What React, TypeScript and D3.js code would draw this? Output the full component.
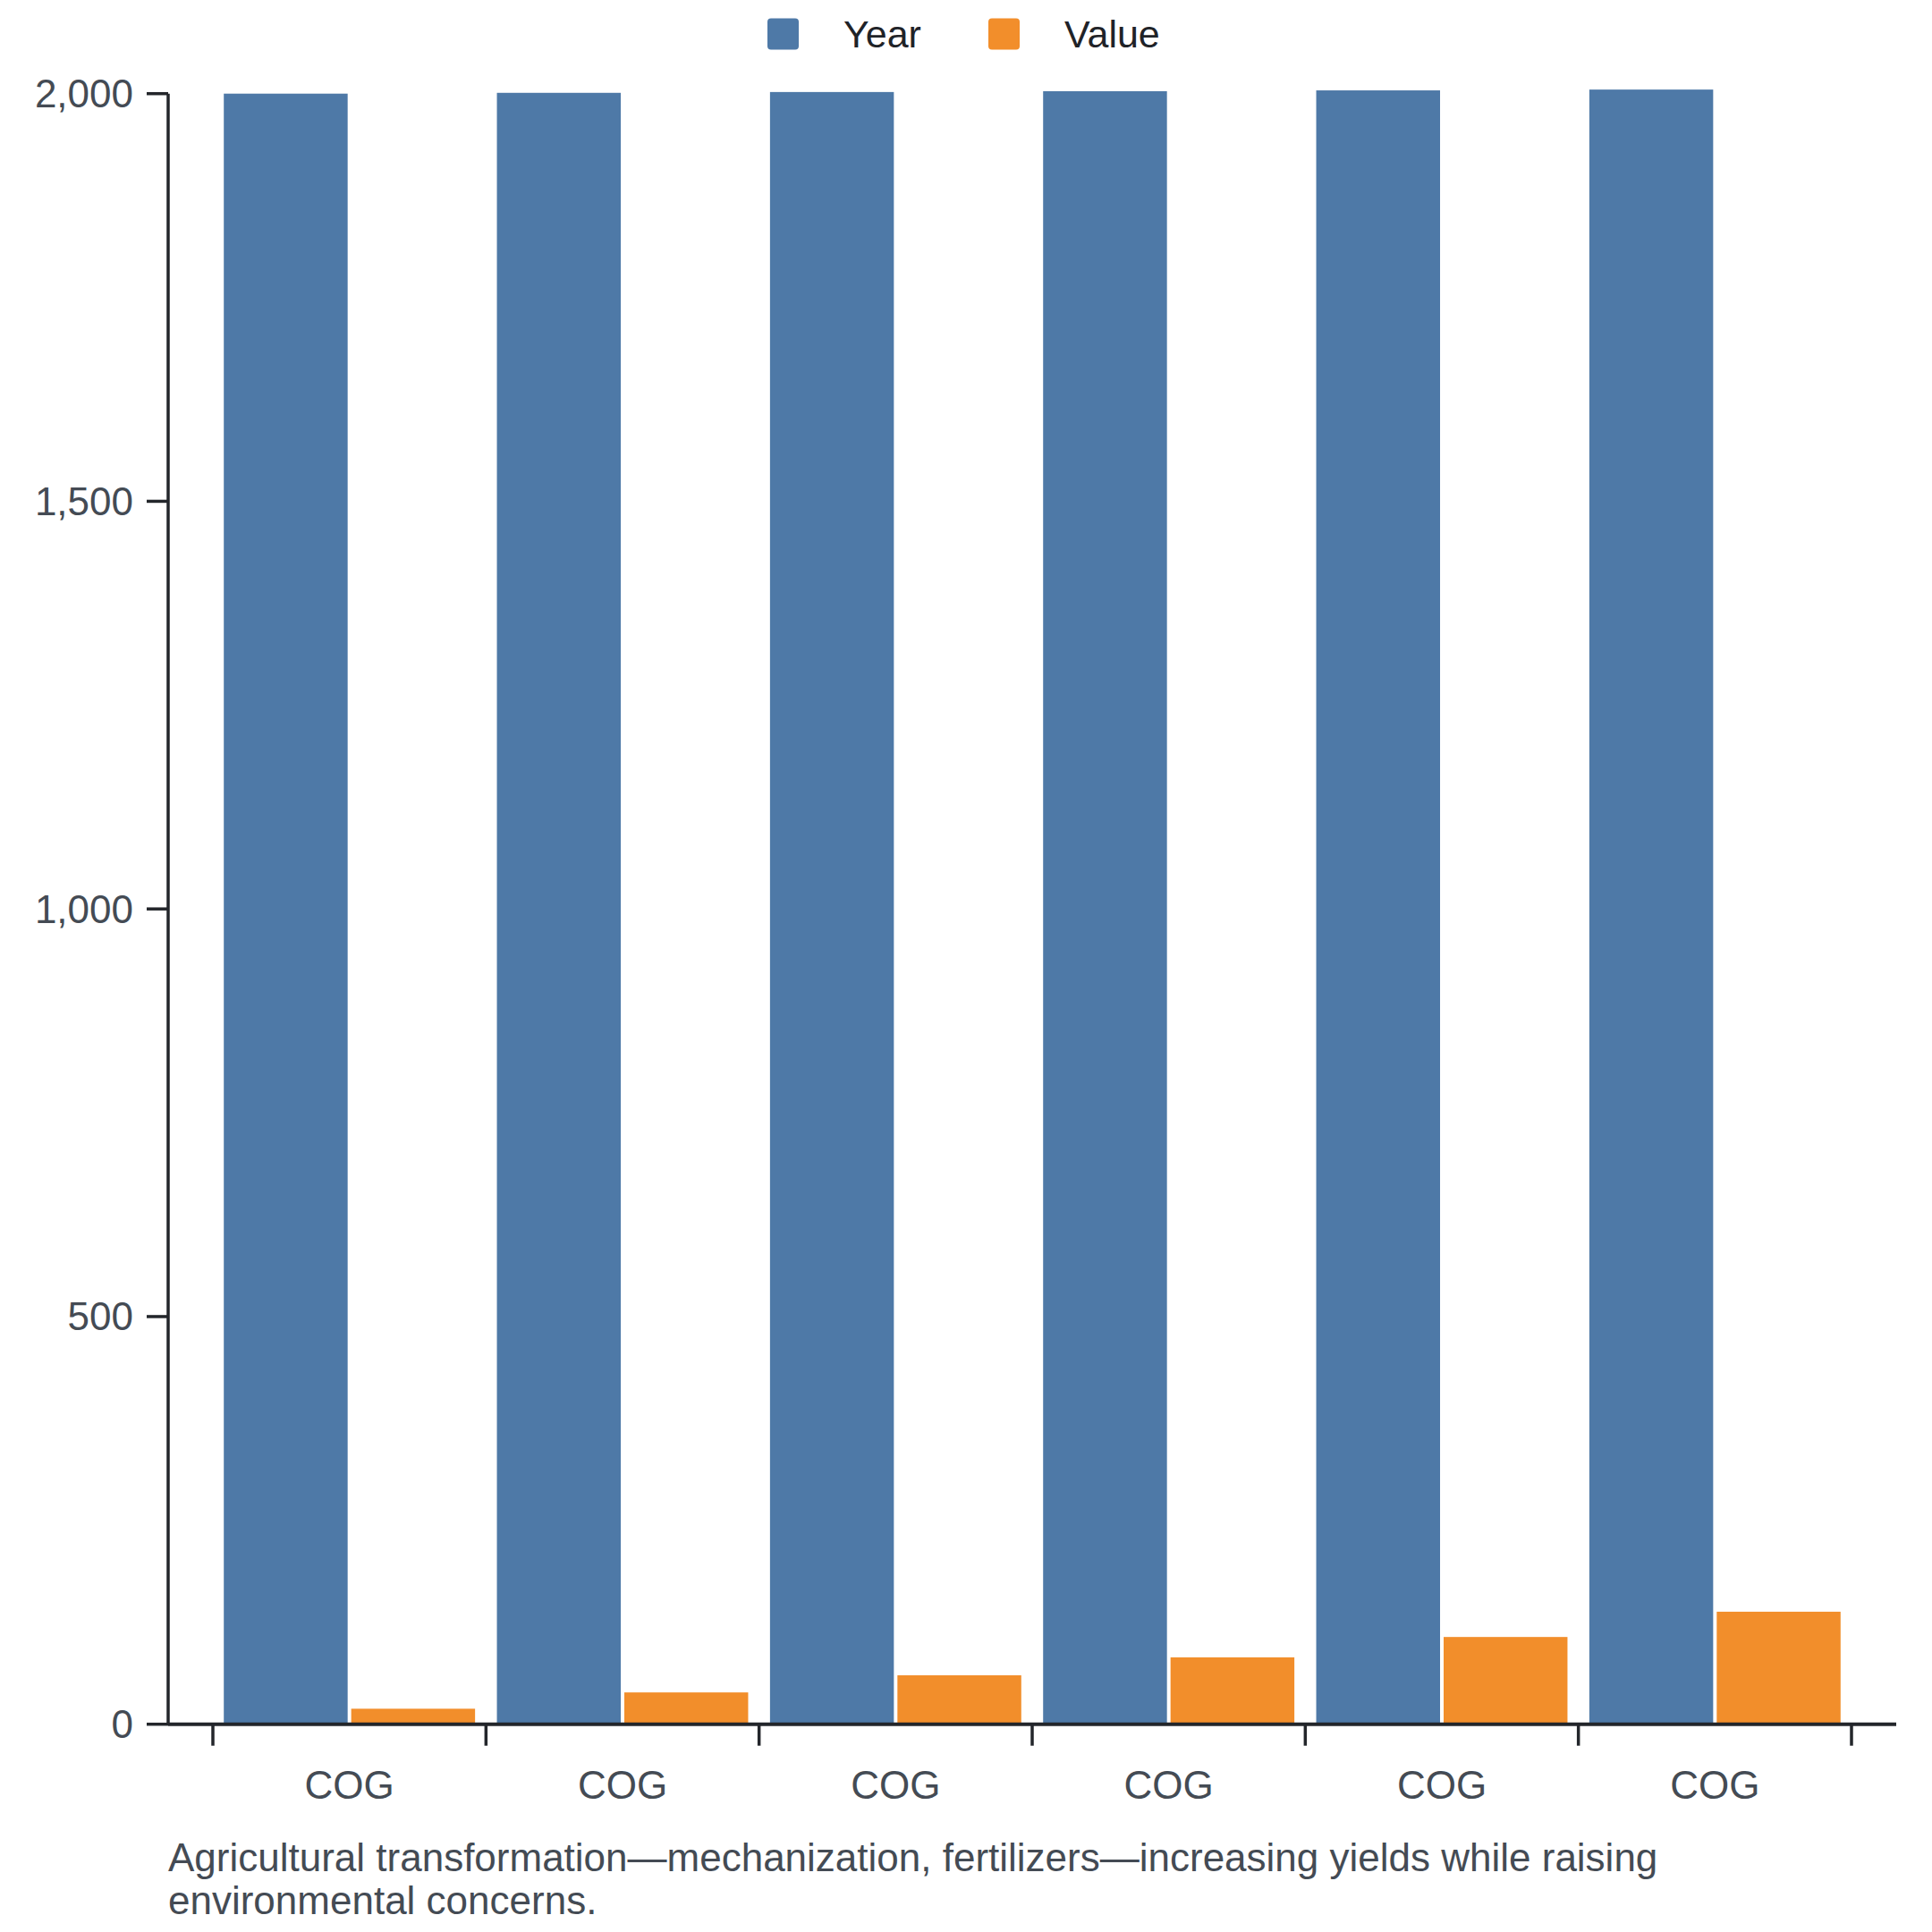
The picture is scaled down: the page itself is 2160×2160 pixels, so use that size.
import * as d3 from "d3";

// data
const categories = ["COG", "COG", "COG", "COG", "COG", "COG"];
const yearValues = [2000, 2001, 2002, 2003, 2004, 2005];
const valueValues = [19, 39, 60, 82, 107, 138];
const seriesNames = ["Year", "Value"];
const seriesColors = ["#4e79a7", "#f28e2b"];
const yTicks = [0, 500, 1000, 1500, 2000];
const captionLines = [
  "Agricultural transformation—mechanization, fertilizers—increasing yields while raising",
  "environmental concerns.",
];

const W = 2160;
const H = 2160;
const FONT = "'Liberation Sans', Arial, Helvetica, sans-serif";
const axisX = 188;
const axisEnd = 2120;
const tickLen = 24;

export default function App() {
  const y = d3.scaleLinear().domain([0, 2000]).range([1927.7, 104.7]);

  const groupIdx = d3.range(categories.length);
  const x0 = d3
    .scaleBand<number>()
    .domain(groupIdx)
    .range([238, 2070])
    .paddingInner(0.08)
    .paddingOuter(0.04);
  const x1 = d3
    .scaleBand<string>()
    .domain(seriesNames)
    .range([0, x0.bandwidth()])
    .paddingInner(0.028);
  // ticks sit on group boundaries
  const xb = d3.scaleLinear().domain([0, categories.length]).range([238, 2070]);

  const color = d3.scaleOrdinal<string, string>().domain(seriesNames).range(seriesColors);
  const fmt = d3.format(",");

  const rows = groupIdx.map((i) => ({ i, Year: yearValues[i], Value: valueValues[i] }));

  // legend layout
  const legendItems = [
    { name: "Year", x: 858, tx: 943 },
    { name: "Value", x: 1105, tx: 1190 },
  ];

  return (
    <svg
      width={W}
      height={H}
      style={{ position: "absolute", left: 0, top: 0, background: "#fff" }}
      fontFamily={FONT}
    >
      <rect x={0} y={0} width={W} height={H} fill="#fff" />

      {/* legend */}
      {legendItems.map((d) => (
        <g key={d.name}>
          <rect x={d.x} y={20.5} width={35} height={35} rx={4} fill={color(d.name)} />
          <text x={d.tx} y={38} dy="0.35em" fontSize={43} fill="#1f2328">
            {d.name}
          </text>
        </g>
      ))}

      {/* bars */}
      {rows.map((r) => (
        <g key={r.i} transform={`translate(${x0(r.i)},0)`}>
          {seriesNames.map((s) => {
            const v = (r as any)[s] as number;
            return (
              <rect
                key={s}
                x={x1(s)}
                y={y(v)}
                width={x1.bandwidth()}
                height={y(0) - y(v)}
                fill={color(s)}
              />
            );
          })}
        </g>
      ))}

      {/* y axis */}
      <line x1={axisX} x2={axisX} y1={y(2000)} y2={y(0)} stroke="#23262b" strokeWidth={3.5} />
      {yTicks.map((t) => (
        <g key={t} transform={`translate(0,${y(t)})`}>
          <line x1={axisX - tickLen} x2={axisX} stroke="#23262b" strokeWidth={3.5} />
          <text
            x={axisX - tickLen - 15}
            dy="0.35em"
            fontSize={44}
            textAnchor="end"
            fill="#444b54"
          >
            {fmt(t)}
          </text>
        </g>
      ))}

      {/* x axis */}
      <line x1={axisX} x2={axisEnd} y1={y(0)} y2={y(0)} stroke="#23262b" strokeWidth={4} />
      {d3.range(categories.length + 1).map((k) => (
        <line
          key={k}
          x1={xb(k)}
          x2={xb(k)}
          y1={y(0)}
          y2={y(0) + tickLen}
          stroke="#23262b"
          strokeWidth={3.5}
        />
      ))}
      {categories.map((c, i) => (
        <text
          key={i}
          x={(x0(i) as number) + x0.bandwidth() / 2}
          y={1996}
          dy="0.35em"
          fontSize={44}
          textAnchor="middle"
          fill="#444b54"
        >
          {c}
        </text>
      ))}

      {/* caption */}
      {captionLines.map((line, i) => (
        <text key={i} x={axisX} y={2091.5 + i * 48.5} fontSize={44} fill="#444b54">
          {line}
        </text>
      ))}
    </svg>
  );
}
